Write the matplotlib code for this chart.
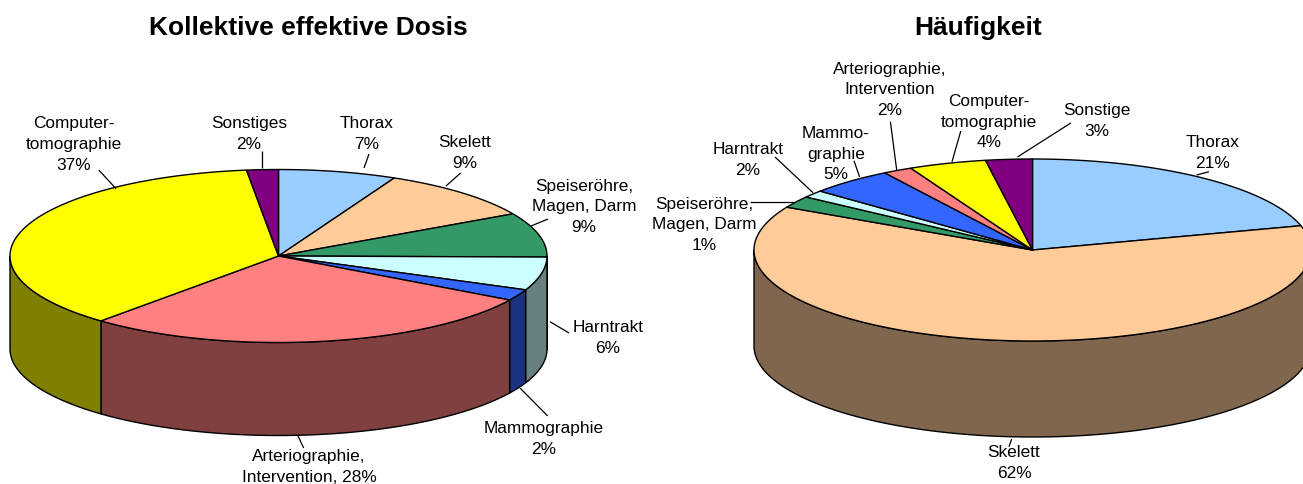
import numpy as np
import matplotlib
matplotlib.use("Agg")
import matplotlib.pyplot as plt
from matplotlib.patches import Polygon

plt.rcParams['font.family'] = ['Liberation Sans', 'DejaVu Sans']

# slice sizes in percent
dose_shares = [7.1, 9.8, 8.3, 6.2, 2.1, 28.0, 36.6, 1.9]
freq_shares = [20.7, 62.1, 2.1, 1.3, 4.9, 1.7, 4.5, 2.7]

dose_labels = ["Thorax\n7%", "Skelett\n9%", "Speiseröhre,\nMagen, Darm\n9%", "Harntrakt\n6%",
               "Mammographie\n2%", "Arteriographie,\nIntervention, 28%",
               "Computer-\ntomographie\n37%", "Sonstiges\n2%"]
freq_labels = ["Thorax\n21%", "Skelett\n62%", "Speiseröhre,\nMagen, Darm\n1%", "Harntrakt\n2%",
               "Mammo-\ngraphie\n5%", "Arteriographie,\nIntervention\n2%",
               "Computer-\ntomographie\n4%", "Sonstige\n3%"]

colors = ["#99CCFF", "#FFCC99", "#339966", "#CCFFFF", "#3366FF", "#FF8080", "#FFFF00", "#800080"]

# layout in pixels: label centre, then leader line start and end
dose_layout = [
    (367, 134, 369, 154, 364, 168),
    (465, 153, 460.6, 173, 446, 186),
    (584, 207, 548, 219, 531, 226),
    (608, 338, 569, 333, 550, 321.7),
    (543.5, 439, 547.7, 416, 520, 388),
    (309, 467, 303.7, 448, 298, 436),
    (73.4, 144.7, 98.8, 170, 116, 188.7),
    (249, 134, 262, 150.7, 262, 168),
]
freq_layout = [
    (1213, 153, 1209, 171.7, 1196.7, 175),
    (1014, 463, 1009, 446.7, 1011.7, 439),
    (704, 225, 750, 202.3, 793.7, 202.3),
    (748, 160, 775, 157, 813, 192.7),
    (836, 154, 854, 160.7, 859.6, 177),
    (889.6, 90, 890.4, 121.7, 896.7, 170),
    (988.7, 122, 960.8, 131, 952, 161.7),
    (1096.7, 121, 1070.8, 123, 1017.5, 157),
]


def ellipse_pts(cx, cy, rx, ry, a0, a1):
    # angles in degrees, clockwise from 12 o'clock
    t = np.radians(np.linspace(a0, a1, max(int(abs(a1 - a0)) * 2, 2) + 1))
    return cx + rx * np.sin(t), cy - ry * np.cos(t)


def draw_pie(ax, shares, cx, cy, rx, ry, depth):
    edges = np.cumsum([0] + list(shares)) / np.sum(shares) * 360
    # side wall, only the front half shows
    for i, col in enumerate(colors):
        a0, a1 = max(edges[i], 90), min(edges[i + 1], 270)
        if a1 <= a0:
            continue
        x, y = ellipse_pts(cx, cy, rx, ry, a0, a1)
        pts = np.r_[np.c_[x, y], np.c_[x, y + depth][::-1]]
        side = tuple(c * 0.5 for c in matplotlib.colors.to_rgb(col))
        ax.add_patch(Polygon(pts, closed=True, fc=side, ec="black", lw=1.0, joinstyle="round"))
    # top face
    for i, col in enumerate(colors):
        x, y = ellipse_pts(cx, cy, rx, ry, edges[i], edges[i + 1])
        pts = np.r_[[[cx, cy]], np.c_[x, y]]
        ax.add_patch(Polygon(pts, closed=True, fc=col, ec="black", lw=1.0, joinstyle="round"))


def draw_labels(ax, labels, layout):
    for text, (tx, ty, x0, y0, x1, y1) in zip(labels, layout):
        ax.text(tx, ty, text, ha="center", va="center", fontsize=12.4, linespacing=1.48, color="black")
        ax.plot([x0, x1], [y0, y1], color="black", lw=0.9, solid_capstyle="butt")


fig = plt.figure(figsize=(13.03, 4.84), dpi=100)
ax = fig.add_axes([0, 0, 1, 1])
ax.set_xlim(0, 1303)
ax.set_ylim(484, 0)
ax.axis("off")

draw_pie(ax, dose_shares, 278.5, 256, 268.5, 86.5, 93)
draw_pie(ax, freq_shares, 1032.5, 250, 278.5, 91, 96)
draw_labels(ax, dose_labels, dose_layout)
draw_labels(ax, freq_labels, freq_layout)

ax.text(308.5, 28, "Kollektive effektive Dosis", ha="center", va="center", fontsize=19, fontweight="bold")
ax.text(978.5, 28, "Häufigkeit", ha="center", va="center", fontsize=19, fontweight="bold")

fig.savefig("out.png", dpi=100)
